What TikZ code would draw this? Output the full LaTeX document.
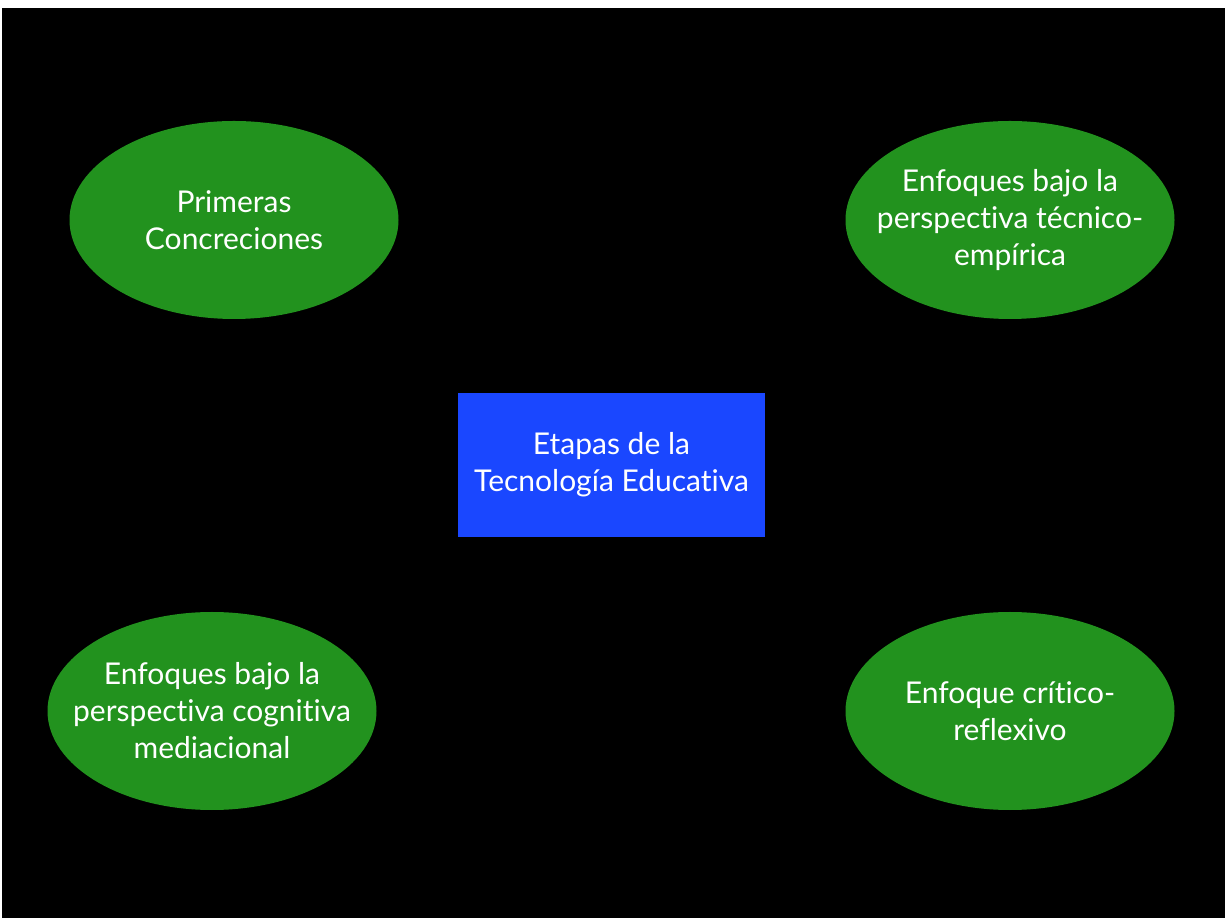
\documentclass[tikz,border=0pt]{standalone}
\usepackage{fontspec}
\setmainfont{Lato}[Ligatures={NoCommon}]
\usetikzlibrary{shapes.geometric}
\definecolor{ovalgreen}{RGB}{34,146,30}
\definecolor{boxblue}{RGB}{26,71,255}
\tikzset{
  oval/.style={ellipse, fill=ovalgreen, minimum width=329pt, minimum height=198pt, inner sep=0pt},
  ovaltext/.style={inner sep=0pt, align=center, text=white, font=\fontsize{30}{37}\selectfont},
  centerbox/.style={rectangle, fill=boxblue, minimum width=307pt, minimum height=144pt, inner sep=0pt, align=center, text=white, font=\fontsize{30}{37}\selectfont}
}
\begin{document}
\begin{tikzpicture}[x=1pt,y=1pt]
\fill[white] (0,0) rectangle (1225,918);
\useasboundingbox (0,0) rectangle (1225,918);
\fill[black] (2,0) rectangle (1225,910);
\node[oval] (pc) at (234,698) {};
\node[ovaltext] (pct) at (pc) {Primeras\\Concreciones};
\node[oval] (te) at (1010,698) {};
\node[ovaltext] (tet) at (te) {Enfoques bajo la\\perspectiva técnico-\\empírica};
\node[oval] (cm) at (212,207) {};
\node[ovaltext] (cmt) at (cm) {Enfoques bajo la\\perspectiva cognitiva\\mediacional};
\node[oval] (cr) at (1010,207) {};
\node[ovaltext] (crt) at (cr) {Enfoque crítico-\\reflexivo};
\node[centerbox] (et) at (611.5,453) {Etapas de la\\Tecnología Educativa};
\end{tikzpicture}
\end{document}
